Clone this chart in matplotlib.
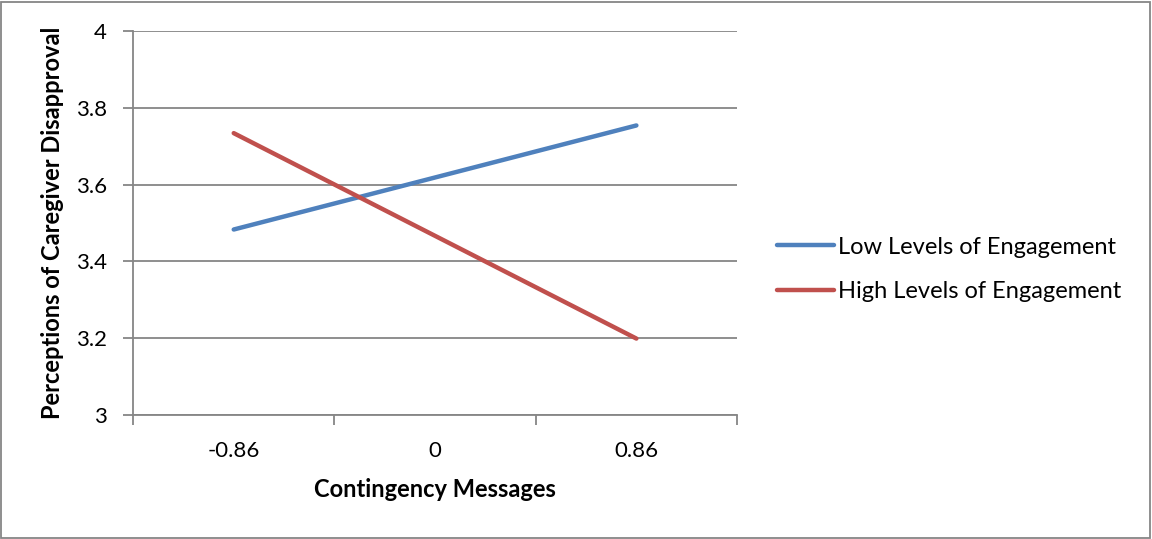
import matplotlib.pyplot as plt
from matplotlib.patches import Rectangle

plt.rcParams["font.family"] = ["Lato", "DejaVu Sans"]

categories = ["-0.86", "0", "0.86"]
low_engagement = [3.483, None, 3.754]
high_engagement = [3.734, None, 3.199]
y_ticks = [3, 3.2, 3.4, 3.6, 3.8, 4]
y_tick_labels = ["3", "3.2", "3.4", "3.6", "3.8", "4"]

BLUE = "#4F81BD"
RED = "#C0504D"
GRID = "#868686"

fig = plt.figure(figsize=(11.52, 5.39), dpi=100)
ax = fig.add_axes([0.1155, 0.2301, 0.5243, 0.7124])

# only the two outer categories carry values
xs = [0, 2]
ax.plot(xs, [low_engagement[0], low_engagement[2]], color=BLUE, lw=3.2,
        solid_capstyle="round", label="Low Levels of Engagement")
ax.plot(xs, [high_engagement[0], high_engagement[2]], color=RED, lw=3.2,
        solid_capstyle="round", label="High Levels of Engagement")

ax.set_xlim(-0.5, 2.5)
ax.set_ylim(3, 4)
ax.set_yticks(y_ticks)
ax.set_yticklabels(y_tick_labels)
ax.set_xticks(range(len(categories)))
ax.set_xticklabels(categories)
ax.set_xticks([-0.5, 0.5, 1.5, 2.5], minor=True)

ax.yaxis.grid(True, color=GRID, lw=1.3)
ax.set_axisbelow(True)
for side in ("top", "right"):
    ax.spines[side].set_visible(False)
for side in ("left", "bottom"):
    ax.spines[side].set_color(GRID)
    ax.spines[side].set_linewidth(1.3)

ax.tick_params(axis="y", length=7, width=1.3, color=GRID, labelsize=16, pad=12)
ax.tick_params(axis="x", which="major", length=0, labelsize=16, pad=19)
ax.tick_params(axis="x", which="minor", length=7, width=1.3, color=GRID)

ax.set_xlabel("Contingency Messages", fontsize=17, fontweight="bold", labelpad=12)
ax.set_ylabel("Perceptions of Caregiver Disapproval", fontsize=17,
              fontweight="bold", labelpad=8)

fig.legend(loc="center left", bbox_to_anchor=(0.656, 0.5), frameon=False,
           fontsize=17, handlelength=2.4, handletextpad=0.2, labelspacing=1.0)

# chart area border
fig.patches.append(Rectangle((0.001, 0.002), 0.997, 0.995, transform=fig.transFigure,
                             fill=False, edgecolor=GRID, lw=1.3))

fig.savefig("out.png", dpi=100)
